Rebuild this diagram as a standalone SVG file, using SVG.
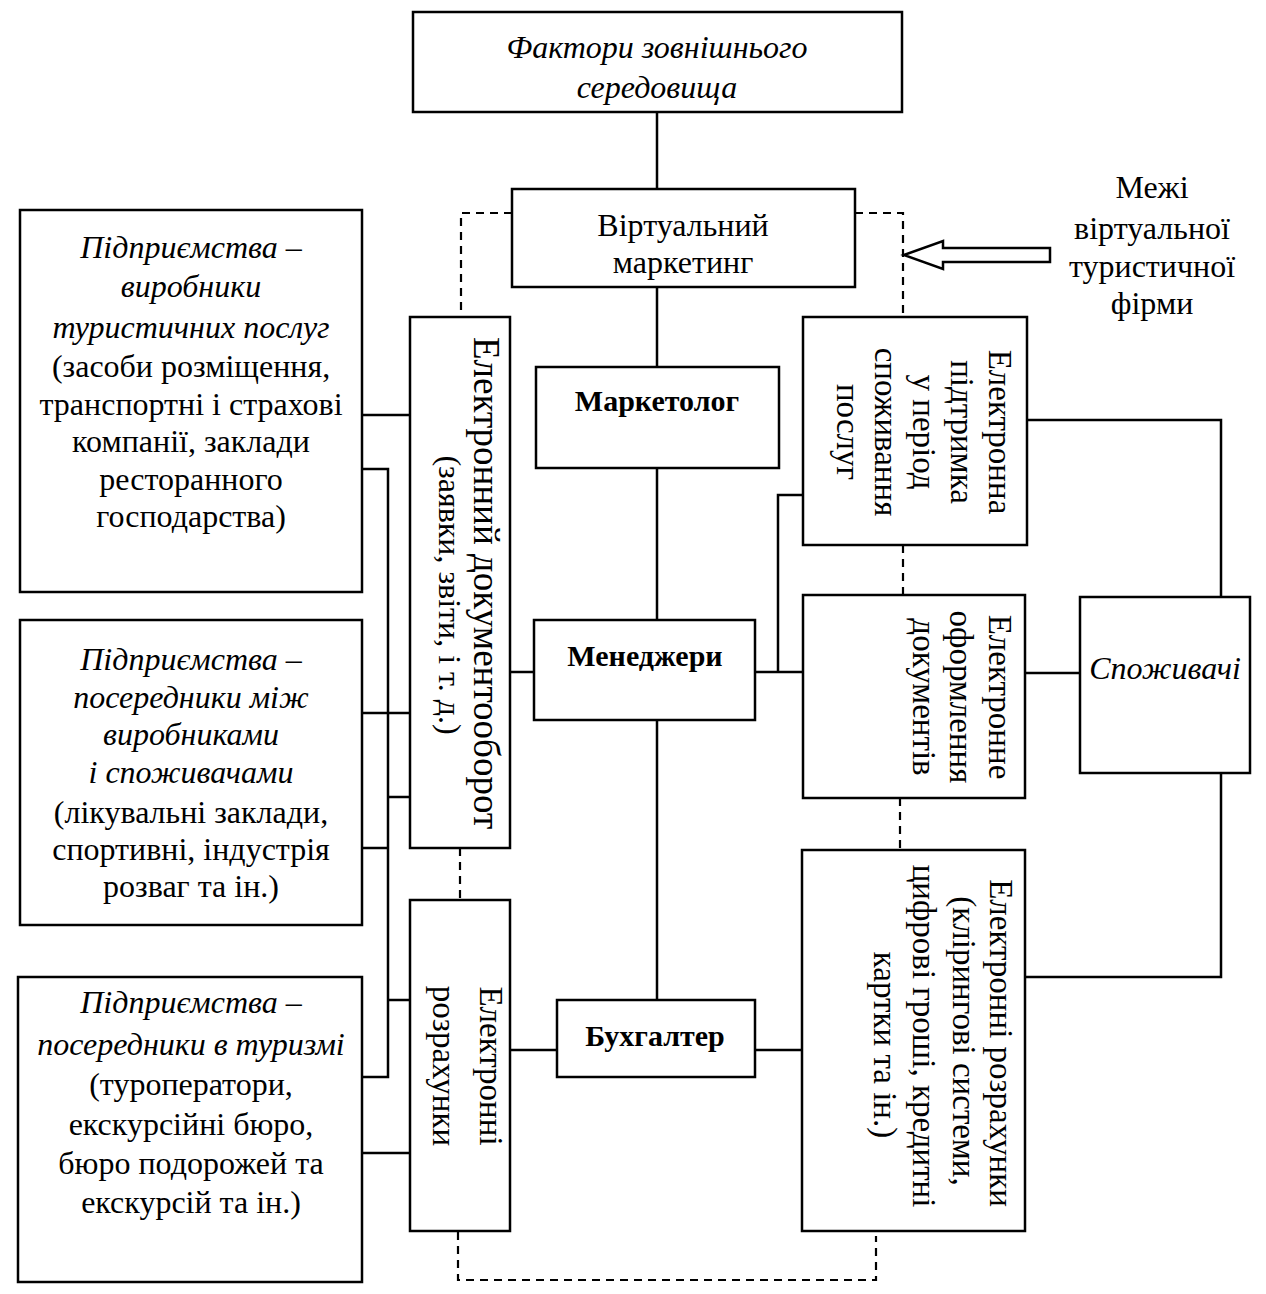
<svg xmlns="http://www.w3.org/2000/svg" width="1266" height="1294" viewBox="0 0 1266 1294">
<style>
.box{fill:#fff;stroke:#000;stroke-width:2.5}
.ln{fill:none;stroke:#000;stroke-width:2.5}
.dash{fill:none;stroke:#000;stroke-width:2.2;stroke-dasharray:8 6}
.arr{fill:#fff;stroke:#000;stroke-width:2.5;stroke-linejoin:miter}
text{font-family:"Liberation Serif","Times New Roman",serif;font-size:32px;fill:#000;text-anchor:middle}
.it{font-style:italic}
.b{font-weight:bold;font-size:30px}
.r{font-size:33px}
</style>
<rect width="1266" height="1294" fill="#fff"/>

<g id="connectors">
  <path class="ln" d="M657 112V189M657 287V367M657 468V620M657 720V1000"/>
  <path class="ln" d="M534 672H510M557 1050H510M755 1050H802"/>
  <path class="ln" d="M755 672H803M778 672V495H803"/>
  <path class="ln" d="M1027 420H1221V597M1025 673H1080M1221 773V977H1025"/>
  <path class="ln" d="M362 415H410M362 713H410M362 1153H410"/>
  <path class="ln" d="M362 469H388V1077H362M388 797H410M362 848H388M388 1000H410"/>
  <path class="dash" d="M512 213H461V317"/>
  <path class="dash" d="M855 213H903V317"/>
  <path class="dash" d="M460 848V900"/>
  <path class="dash" d="M903 545V595"/>
  <path class="dash" d="M900 798V850"/>
  <path class="dash" d="M458 1232V1280H876V1236"/>
  <polygon class="arr" points="904,255 943,241 943,248 1050,248 1050,262 943,262 943,269"/>
</g>

<g id="n-factors">
  <rect class="box" x="413" y="12" width="489" height="100"/>
  <text class="it" x="657" y="58">Фактори зовнішнього</text>
  <text class="it" x="657" y="98">середовища</text>
</g>

<g id="n-vm">
  <rect class="box" x="512" y="189" width="343" height="98"/>
  <text x="683" y="236">Віртуальний</text>
  <text x="683" y="273">маркетинг</text>
</g>

<g id="n-boundary-label">
  <text x="1152" y="198">Межі</text>
  <text x="1152" y="239">віртуальної</text>
  <text x="1152" y="277">туристичної</text>
  <text x="1152" y="314">фірми</text>
</g>

<g id="n-marketolog">
  <rect class="box" x="536" y="367" width="243" height="101"/>
  <text class="b" x="657" y="411">Маркетолог</text>
</g>

<g id="n-managers">
  <rect class="box" x="534" y="620" width="221" height="100"/>
  <text class="b" x="645" y="666">Менеджери</text>
</g>

<g id="n-buh">
  <rect class="box" x="557" y="1000" width="198" height="77"/>
  <text class="b" x="655" y="1046">Бухгалтер</text>
</g>

<g id="n-left1">
  <rect class="box" x="20" y="210" width="342" height="382"/>
  <text class="it" x="191" y="258">Підприємства –</text>
  <text class="it" x="191" y="297">виробники</text>
  <text class="it" x="191" y="338">туристичних послуг</text>
  <text x="191" y="377">(засоби розміщення,</text>
  <text x="191" y="415">транспортні і страхові</text>
  <text x="191" y="452">компанії, заклади</text>
  <text x="191" y="490">ресторанного</text>
  <text x="191" y="527">господарства)</text>
</g>

<g id="n-left2">
  <rect class="box" x="20" y="620" width="342" height="305"/>
  <text class="it" x="191" y="670">Підприємства –</text>
  <text class="it" x="191" y="708">посередники між</text>
  <text class="it" x="191" y="745">виробниками</text>
  <text class="it" x="191" y="783">і споживачами</text>
  <text x="191" y="823">(лікувальні заклади,</text>
  <text x="191" y="860">спортивні, індустрія</text>
  <text x="191" y="897">розваг та ін.)</text>
</g>

<g id="n-left3">
  <rect class="box" x="18" y="977" width="344" height="305"/>
  <text class="it" x="191" y="1013">Підприємства –</text>
  <text class="it" x="191" y="1055">посередники в туризмі</text>
  <text x="191" y="1095">(туроператори,</text>
  <text x="191" y="1135">екскурсійні бюро,</text>
  <text x="191" y="1174">бюро подорожей та</text>
  <text x="191" y="1213">екскурсій та ін.)</text>
</g>

<g id="n-doc">
  <rect class="box" x="410" y="317" width="100" height="531"/>
  <text style="font-size:37px" transform="translate(474,583) rotate(90)">Електронний документооборот</text>
  <text transform="translate(439,595) rotate(90)">(заявки, звіти, і т. д.)</text>
</g>

<g id="n-rozr-left">
  <rect class="box" x="410" y="900" width="100" height="331"/>
  <text class="r" transform="translate(480,1066) rotate(90)">Електронні</text>
  <text class="r" transform="translate(433,1066) rotate(90)">розрахунки</text>
</g>

<g id="n-support">
  <rect class="box" x="803" y="317" width="224" height="228"/>
  <text class="r" transform="translate(989,432) rotate(90)">Електронна</text>
  <text class="r" transform="translate(951,432) rotate(90)">підтримка</text>
  <text class="r" transform="translate(913,432) rotate(90)">у період</text>
  <text class="r" transform="translate(875,432) rotate(90)">споживання</text>
  <text class="r" transform="translate(837,432) rotate(90)">послуг</text>
</g>

<g id="n-oform">
  <rect class="box" x="803" y="595" width="222" height="203"/>
  <text class="r" transform="translate(989,697) rotate(90)">Електронне</text>
  <text class="r" transform="translate(950,697) rotate(90)">оформлення</text>
  <text class="r" transform="translate(913,697) rotate(90)">документів</text>
</g>

<g id="n-rozr-right">
  <rect class="box" x="802" y="850" width="223" height="381"/>
  <text class="r" transform="translate(990,1043) rotate(90)">Електронні розрахунки</text>
  <text class="r" transform="translate(953,1041) rotate(90)">(клірингові системи,</text>
  <text class="r" transform="translate(913,1036) rotate(90)">цифрові гроші, кредитні</text>
  <text class="r" transform="translate(874,1045) rotate(90)">картки та ін.)</text>
</g>

<g id="n-consumers">
  <rect class="box" x="1080" y="597" width="170" height="176"/>
  <text class="it" x="1165" y="679">Споживачі</text>
</g>
</svg>
